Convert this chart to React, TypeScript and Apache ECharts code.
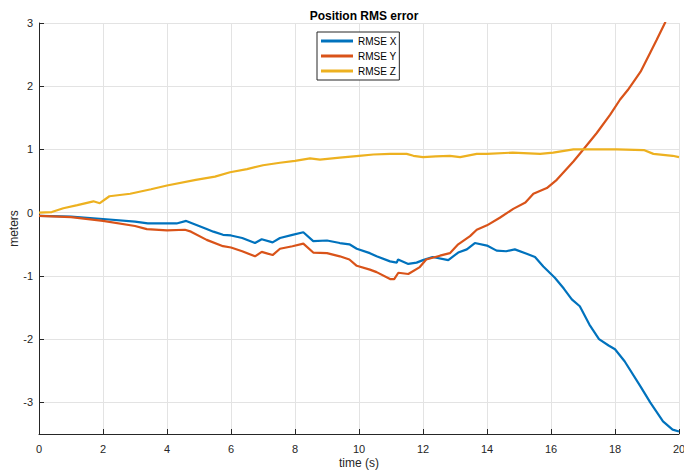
import React, { useEffect, useRef } from "react";
import * as echarts from "echarts";

// RMSE X (blue)
const timeX = [0, 1, 2, 3, 3.4, 4, 4.3, 4.6, 4.9, 5.2, 5.45, 5.75, 6, 6.35, 6.75, 6.96, 7.3, 7.53, 7.92, 8.26, 8.57, 9, 9.4, 9.7, 9.93, 10.34, 10.55, 10.97, 11.18, 11.22, 11.54, 11.8, 12, 12.3, 12.79, 13.1, 13.37, 13.62, 14, 14.3, 14.6, 14.87, 15.24, 15.5, 15.76, 16.12, 16.4, 16.65, 16.9, 17.2, 17.5, 17.8, 18, 18.3, 18.8, 19.1, 19.5, 19.8, 20];
const rmseX = [-0.05, -0.06, -0.1, -0.14, -0.17, -0.17, -0.17, -0.13, -0.19, -0.25, -0.3, -0.35, -0.36, -0.4, -0.48, -0.42, -0.47, -0.4, -0.35, -0.31, -0.45, -0.44, -0.48, -0.5, -0.57, -0.64, -0.69, -0.77, -0.79, -0.74, -0.81, -0.79, -0.75, -0.7, -0.75, -0.63, -0.58, -0.48, -0.52, -0.6, -0.61, -0.58, -0.65, -0.7, -0.85, -1.03, -1.2, -1.37, -1.48, -1.77, -2.0, -2.1, -2.16, -2.35, -2.75, -3.0, -3.3, -3.43, -3.46];

// RMSE Y (orange)
const timeY = [0, 1, 2, 3, 3.37, 4, 4.56, 4.75, 5.24, 5.75, 6, 6.35, 6.75, 6.96, 7.3, 7.53, 7.92, 8.26, 8.57, 9, 9.4, 9.7, 9.93, 10.34, 10.55, 10.97, 11.1, 11.23, 11.54, 11.9, 12.1, 12.53, 12.84, 13.1, 13.47, 13.68, 14, 14.4, 14.82, 15.2, 15.45, 15.87, 16.18, 16.7, 17.01, 17.43, 17.85, 18.16, 18.4, 18.8, 19.1, 19.3, 19.56, 20];
const rmseY = [-0.05, -0.07, -0.13, -0.21, -0.26, -0.28, -0.27, -0.3, -0.43, -0.53, -0.55, -0.61, -0.69, -0.62, -0.67, -0.57, -0.53, -0.49, -0.63, -0.64, -0.69, -0.74, -0.84, -0.9, -0.94, -1.05, -1.05, -0.95, -0.97, -0.86, -0.74, -0.68, -0.64, -0.5, -0.37, -0.27, -0.2, -0.08, 0.06, 0.16, 0.3, 0.39, 0.52, 0.81, 1.0, 1.26, 1.55, 1.79, 1.94, 2.23, 2.53, 2.73, 3.0, 3.6];

// RMSE Z (yellow)
const timeZ = [0, 0.4, 0.76, 1.2, 1.7, 1.9, 2.2, 2.85, 3.5, 4, 4.9, 5.5, 5.97, 6.5, 7.0, 7.53, 8, 8.47, 8.78, 9.4, 10, 10.45, 10.97, 11.49, 11.7, 12, 12.4, 12.84, 13.16, 13.68, 14, 14.8, 15.66, 16.07, 16.7, 18.05, 18.9, 19.2, 19.8, 20];
const rmseZ = [0.0, 0.01, 0.07, 0.12, 0.18, 0.15, 0.26, 0.3, 0.37, 0.43, 0.52, 0.57, 0.64, 0.69, 0.75, 0.79, 0.82, 0.86, 0.84, 0.87, 0.9, 0.92, 0.93, 0.93, 0.9, 0.88, 0.89, 0.9, 0.88, 0.93, 0.93, 0.95, 0.93, 0.95, 1.0, 1.0, 0.99, 0.93, 0.9, 0.88];

const seriesNames = ["RMSE X", "RMSE Y", "RMSE Z"];
const seriesColors = ["#0072BD", "#D95319", "#EDB120"];

const pairs = (t: number[], v: number[]) => t.map((ti, i) => [ti, v[i]]);

const FONT = "'Liberation Sans', Arial, Helvetica, sans-serif";
const INK = "#262626";
const GRID = "#e3e3e3";

export default function App() {
  const ref = useRef<HTMLDivElement>(null);

  useEffect(() => {
    if (!ref.current) return;
    const chart = echarts.init(ref.current, null, { renderer: "svg" });
    const data = [pairs(timeX, rmseX), pairs(timeY, rmseY), pairs(timeZ, rmseZ)];

    chart.setOption({
      animation: false,
      backgroundColor: "#ffffff",
      textStyle: { fontFamily: FONT },
      title: {
        text: "Position RMS error",
        left: 359,
        top: 5,
        textAlign: "center",
        textStyle: { fontFamily: FONT, fontSize: 12, fontWeight: "bold", color: "#000" },
      },
      legend: {
        orient: "vertical",
        left: 317,
        top: 32,
        padding: [3, 3, 3, 4],
        itemGap: 3,
        itemWidth: 32,
        itemHeight: 3,
        icon: "rect",
        backgroundColor: "#ffffff",
        borderColor: INK,
        borderWidth: 1,
        borderRadius: 0,
        data: seriesNames,
        textStyle: { fontFamily: FONT, fontSize: 10, color: "#000", lineHeight: 12 },
      },
      grid: { left: 39, right: 5, top: 23, bottom: 40, containLabel: false, outerBoundsMode: "none" },
      xAxis: {
        type: "value",
        min: 0,
        max: 20,
        interval: 2,
        name: "time (s)",
        nameLocation: "middle",
        nameGap: 23,
        nameMoveOverlap: false,
        nameTextStyle: { fontFamily: FONT, fontSize: 12, color: INK },
        axisLine: { show: true, onZero: false, lineStyle: { color: INK, width: 1 } },
        axisTick: { show: true, inside: true, length: 5, lineStyle: { color: INK } },
        axisLabel: { fontFamily: FONT, fontSize: 11, color: INK, margin: 9 },
        splitLine: { show: true, lineStyle: { color: GRID, width: 1 } },
      },
      yAxis: {
        type: "value",
        min: -3.5,
        max: 3,
        name: "meters",
        nameLocation: "middle",
        nameGap: 19,
        nameMoveOverlap: false,
        nameTextStyle: { fontFamily: FONT, fontSize: 12, color: INK },
        axisLine: { show: true, onZero: false, lineStyle: { color: INK, width: 1 } },
        axisTick: { show: true, inside: true, length: 5, lineStyle: { color: INK } },
        axisLabel: {
          fontFamily: FONT,
          fontSize: 11,
          color: INK,
          margin: 6,
          showMinLabel: false,
          formatter: (v: number) => (Number.isInteger(v) ? String(v) : ""),
        },
        splitLine: { show: true, lineStyle: { color: GRID, width: 1 } },
      },
      series: seriesNames.map((name, i) => ({
        name,
        type: "line",
        data: data[i],
        showSymbol: false,
        symbol: "none",
        clip: true,
        color: seriesColors[i],
        lineStyle: { color: seriesColors[i], width: 2.2 },
      })),
    });

    return () => chart.dispose();
  }, []);

  return <div ref={ref} style={{ position: "absolute", left: 0, top: 0, width: 684, height: 474 }} />;
}
